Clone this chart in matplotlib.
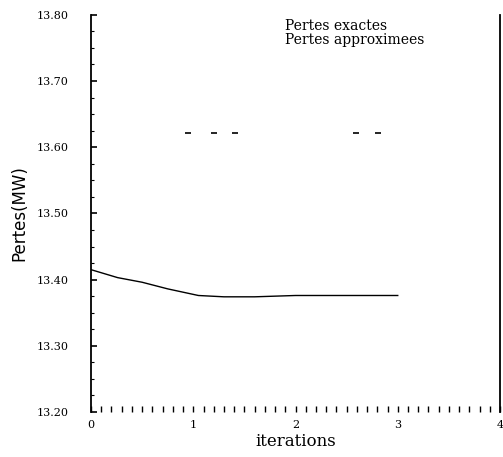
import matplotlib.pyplot as plt
import numpy as np

# Pertes approximees (courbe continue)
iter_approx = [0.0, 0.26, 0.5, 0.75, 0.9, 1.05, 1.3, 1.6, 2.0, 2.5, 3.0]
pertes_approx = [13.415, 13.403, 13.396, 13.386, 13.381, 13.376, 13.374, 13.374, 13.376, 13.376, 13.376]

# Pertes exactes (traits isoles)
iter_exact = [0.95, 1.2, 1.41, 2.59, 2.81]
pertes_exact = [13.622, 13.622, 13.622, 13.622, 13.622]

yticks = [13.20, 13.30, 13.40, 13.50, 13.60, 13.70, 13.80]
xticks = [0, 1, 2, 3, 4]

fig = plt.figure(figsize=(5.03, 4.57), dpi=100)
ax = fig.add_axes([0.181, 0.0985, 0.813, 0.869])

ax.plot(iter_approx, pertes_approx, color='black', lw=1.0)
ax.plot(iter_exact, pertes_exact, ls='none', marker='_', ms=5, mew=1.2, color='black')

ax.set_xlim(0, 4)
ax.set_ylim(13.20, 13.80)
ax.set_xticks(xticks)
ax.set_xticklabels([str(v) for v in xticks], family='DejaVu Serif', fontsize=8)
ax.set_yticks(yticks)
ax.set_yticklabels(['%.2f' % v for v in yticks], family='DejaVu Serif', fontsize=8)
ax.set_xticks(np.arange(0, 4.01, 0.1), minor=True)
ax.tick_params(axis='x', which='both', direction='in', length=4, width=1, pad=6)
ax.tick_params(axis='y', which='major', direction='in', length=4, width=1.2, pad=16)
ax.set_yticks(np.arange(13.20, 13.801, 0.025), minor=True)
ax.tick_params(axis='y', which='minor', direction='in', length=2, width=0.8)

ax.spines['top'].set_visible(False)
ax.spines['bottom'].set_visible(False)
ax.spines['left'].set_linewidth(1.3)
ax.spines['right'].set_linewidth(1.3)

ax.set_xlabel('iterations', family='DejaVu Serif', fontsize=12, labelpad=2)
ax.set_ylabel('Pertes(MW)', family='DejaVu Sans', fontsize=12, labelpad=6)

ax.text(0.475, 0.99, 'Pertes exactes', transform=ax.transAxes, family='DejaVu Serif', fontsize=10, va='top')
ax.text(0.475, 0.955, 'Pertes approximees', transform=ax.transAxes, family='DejaVu Serif', fontsize=10, va='top')

fig.savefig('out.png', dpi=100)
